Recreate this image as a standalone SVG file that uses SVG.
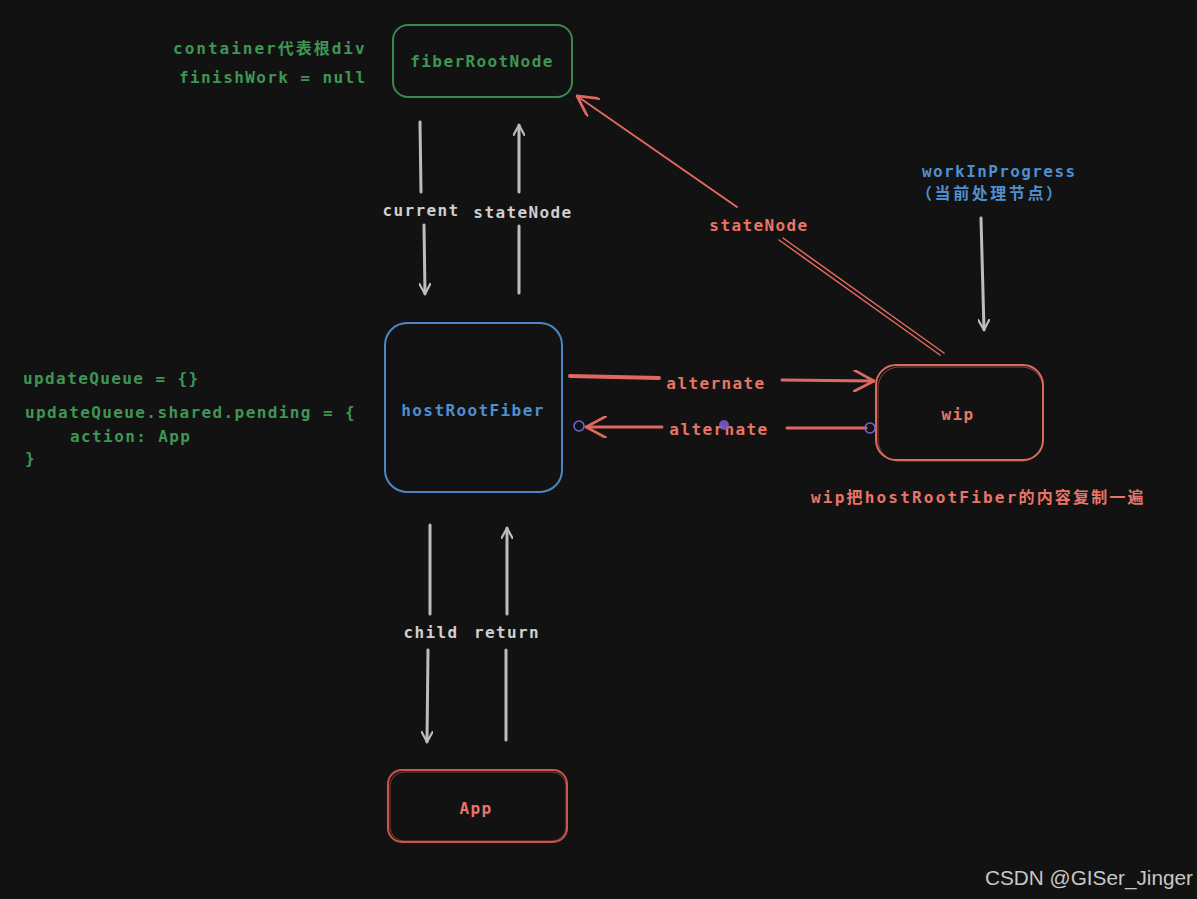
<svg xmlns="http://www.w3.org/2000/svg" width="1197" height="899" viewBox="0 0 1197 899">
<defs>
<style>
.t{font-family:"DejaVu Sans Mono","Liberation Mono","Noto Sans CJK SC",monospace;font-weight:bold;font-size:16px;letter-spacing:1.4px}
.g{fill:#3f9654}
.r{fill:#ea7468}
.b{fill:#4f8fd0}
.w{fill:#cfcfcf}
.gl{stroke:#bdbdbd;stroke-width:3;fill:none;stroke-linecap:round}
.rl{stroke:#e0695f;fill:none;stroke-linecap:round}
</style>
<marker id="ag" viewBox="0 0 12 12" refX="11" refY="6" markerWidth="12" markerHeight="12" markerUnits="userSpaceOnUse" orient="auto"><path d="M0,0 L11,6 L0,12" fill="none" stroke="#bdbdbd" stroke-width="2.2"/></marker>
<marker id="ar" viewBox="0 0 16 16" refX="15" refY="8" markerWidth="22" markerHeight="22" markerUnits="userSpaceOnUse" orient="auto"><path d="M0,0 L15,8 L0,16" fill="none" stroke="#e0695f" stroke-width="2"/></marker>
</defs>
<rect width="1197" height="899" fill="#121212"/>

<g id="fiberRootNode">
<rect x="393" y="25" width="179" height="72" rx="15" fill="none" stroke="#3a8a4c" stroke-width="2"/>
<text class="t g" x="482" y="67" text-anchor="middle">fiberRootNode</text>
</g>
<g id="hostRootFiber">
<rect x="385" y="323" width="177" height="169" rx="22" fill="none" stroke="#4a88c4" stroke-width="2"/>
<text class="t b" x="473" y="416" text-anchor="middle">hostRootFiber</text>
</g>
<g id="wip">
<rect x="876" y="365" width="167" height="95" rx="20" fill="none" stroke="#dc6a5f" stroke-width="2"/>
<rect x="878" y="367" width="165" height="94" rx="21" fill="none" stroke="#dc6a5f" stroke-width="1" opacity="0.6"/>
<text class="t r" x="958" y="420" text-anchor="middle">wip</text>
</g>
<g id="App">
<rect x="388" y="770" width="179" height="72" rx="14" fill="none" stroke="#c9564c" stroke-width="2"/>
<rect x="390" y="772" width="176" height="69" rx="14" fill="none" stroke="#c9564c" stroke-width="1" opacity="0.6"/>
<text class="t r" x="476" y="814" text-anchor="middle">App</text>
</g>

<g id="notes">
<text class="t g" x="173" y="54" textLength="193" lengthAdjust="spacing">container代表根div</text>
<text class="t g" x="179" y="83">finishWork = null</text>
<text class="t g" x="23" y="384">updateQueue = {}</text>
<text class="t g" x="25" y="418">updateQueue.shared.pending = {</text>
<text class="t g" x="70" y="442">action: App</text>
<text class="t g" x="25" y="464">}</text>
<text class="t b" x="922" y="177">workInProgress</text>
<text class="t b" x="916" y="199" style="letter-spacing:0" textLength="146" lengthAdjust="spacing">（当前处理节点）</text>
<text class="t r" x="811" y="503" textLength="334" lengthAdjust="spacing">wip把hostRootFiber的内容复制一遍</text>
<text x="985" y="885" font-family="'Liberation Sans',Arial,sans-serif" font-size="20" fill="#c8c8c8" textLength="208" lengthAdjust="spacingAndGlyphs">CSDN @GISer_Jinger</text>
</g>

<g id="connectors">
<line class="gl" x1="420" y1="122" x2="421" y2="192"/>
<line class="gl" x1="424" y1="225" x2="425" y2="294" marker-end="url(#ag)"/>
<text class="t w" x="421" y="216" text-anchor="middle">current</text>
<line class="gl" x1="519" y1="293" x2="519" y2="226"/>
<line class="gl" x1="519" y1="192" x2="519" y2="125" marker-end="url(#ag)"/>
<text class="t w" x="523" y="218" text-anchor="middle">stateNode</text>

<line class="gl" x1="430" y1="525" x2="430" y2="614"/>
<line class="gl" x1="428" y1="650" x2="427" y2="742" marker-end="url(#ag)"/>
<text class="t w" x="431" y="638" text-anchor="middle">child</text>
<line class="gl" x1="506" y1="740" x2="506" y2="650"/>
<line class="gl" x1="507" y1="614" x2="507" y2="528" marker-end="url(#ag)"/>
<text class="t w" x="507" y="638" text-anchor="middle">return</text>

<line class="gl" x1="981" y1="218" x2="984" y2="330" marker-end="url(#ag)"/>

<line class="rl" stroke-width="2" x1="737" y1="207" x2="577" y2="96" marker-end="url(#ar)"/>
<line class="rl" stroke-width="1.5" x1="779" y1="240" x2="940" y2="355"/>
<line class="rl" stroke-width="1.5" x1="783" y1="238" x2="944" y2="353"/>
<text class="t r" x="759" y="231" text-anchor="middle">stateNode</text>

<line class="rl" stroke-width="4" x1="570" y1="376" x2="659" y2="378"/>
<line class="rl" stroke-width="3" x1="782" y1="380" x2="874" y2="381" marker-end="url(#ar)"/>
<text class="t r" x="716" y="389" text-anchor="middle">alternate</text>

<line class="rl" stroke-width="3" x1="662" y1="427" x2="586" y2="427" marker-end="url(#ar)"/>
<line class="rl" stroke-width="3" x1="787" y1="428" x2="866" y2="428"/>
<text class="t r" x="719" y="435" text-anchor="middle">alternate</text>
<circle cx="579" cy="426" r="5" fill="none" stroke="#6b6bd8" stroke-width="1.5"/>
<circle cx="870" cy="428" r="5" fill="none" stroke="#6b6bd8" stroke-width="1.5"/>
<circle cx="724" cy="425" r="5" fill="#7a5fd0" opacity="0.85"/>
</g>
</svg>
